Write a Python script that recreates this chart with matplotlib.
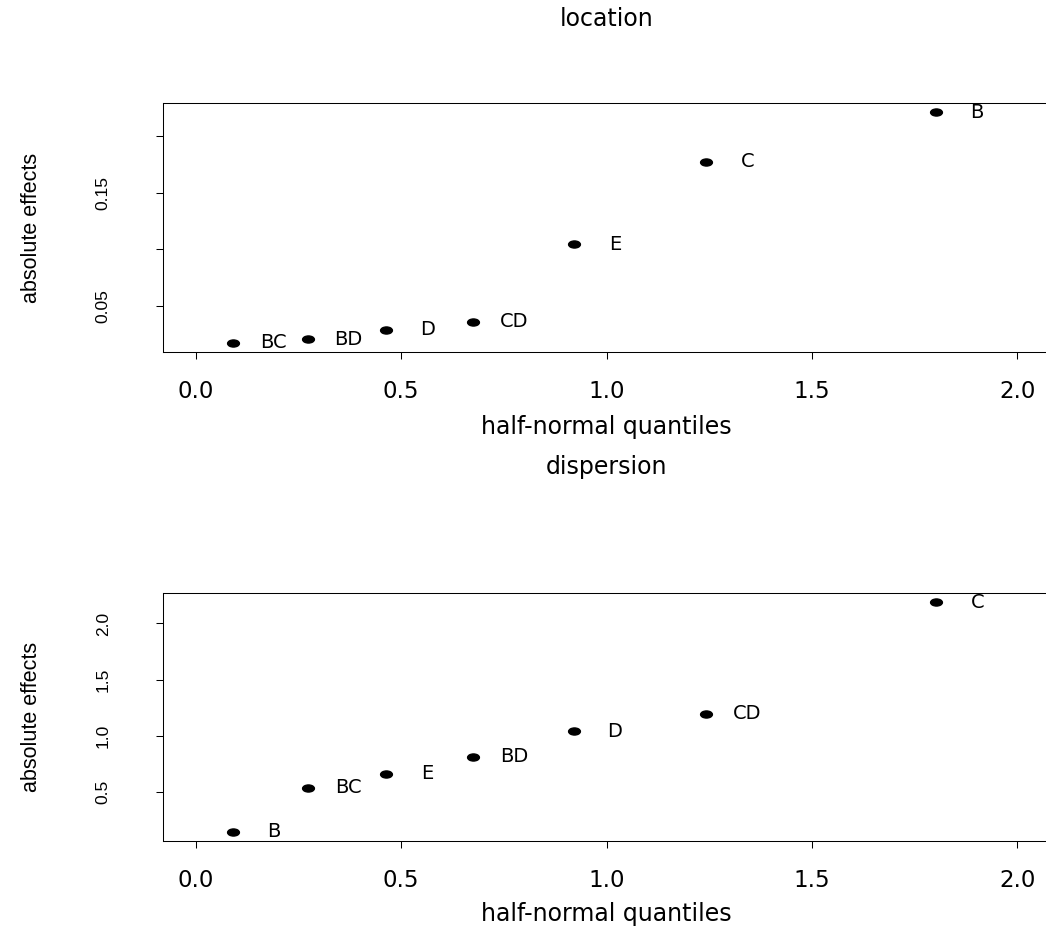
import matplotlib
matplotlib.use("Agg")
import matplotlib.pyplot as plt
from matplotlib.path import Path
from matplotlib.transforms import Affine2D

# ---- data ----
quantiles = [0.0896, 0.2723, 0.4637, 0.6745, 0.9208, 1.2426, 1.8027]

loc_labels = ["BC", "BD", "D", "CD", "E", "C", "B"]
loc_effects = [0.0173, 0.0203, 0.0286, 0.0360, 0.1043, 0.1773, 0.2210]

disp_labels = ["B", "BC", "E", "BD", "D", "CD", "C"]
disp_effects = [0.141, 0.533, 0.660, 0.811, 1.040, 1.194, 2.190]

x_ticks = [0.0, 0.5, 1.0, 1.5, 2.0]
x_ticklabels = ["0.0", "0.5", "1.0", "1.5", "2.0"]
loc_yticks = [0.05, 0.10, 0.15, 0.20]
loc_yticklabels = ["0.05", "", "0.15", ""]
disp_yticks = [0.5, 1.0, 1.5, 2.0]
disp_yticklabels = ["0.5", "1.0", "1.5", "2.0"]

titles = ["location", "dispersion"]
xlabel = "half-normal quantiles"
ylabel = "absolute effects"

# ---- style ----
W, H = 1046, 934
fig = plt.figure(figsize=(W / 100, H / 100), dpi=100)

HFONT = ["DejaVu Sans"]
VFONT = ["Liberation Sans", "DejaVu Sans"]

ellipse = Path(Affine2D().scale(1.0, 0.6).transform(Path.unit_circle().vertices),
               Path.unit_circle().codes)


def panel(rect_px, labels, effects, yticks, yticklabels, title, title_y, xlab_y):
    left, top, right, bottom = rect_px
    ax = fig.add_axes([left / W, 1 - bottom / H, (right - left) / W, (bottom - top) / H])
    ax.plot(quantiles, effects, linestyle="none", marker=ellipse,
            markersize=8.5, color="black")
    for xq, yv, lb in zip(quantiles, effects, labels):
        ax.text(xq + 0.1, yv, lb, ha="center", va="center",
                fontsize=14, family=HFONT, color="black")
    ax.set_xlim(-0.08, 2.08)
    lo, hi = min(effects), max(effects)
    r = hi - lo
    ax.set_ylim(lo - 0.04 * r, hi + 0.04 * r)

    ax.set_xticks(x_ticks)
    ax.set_xticklabels(x_ticklabels, family=HFONT, fontsize=16.5)
    ax.set_yticks(yticks)
    ax.set_yticklabels(yticklabels, family=VFONT, fontsize=12.5)
    for lbl in ax.get_yticklabels():
        lbl.set_rotation(90)
        lbl.set_ha("center")
        lbl.set_va("center")
    ax.tick_params(axis="x", direction="out", length=5, width=0.75, pad=15)
    ax.tick_params(axis="y", direction="out", length=5, width=0.75, pad=38)
    for sp in ax.spines.values():
        sp.set_linewidth(0.75)
        sp.set_color("black")

    ax.set_xlabel(xlabel, family=HFONT, fontsize=17)
    ax.xaxis.label.set_va("center")
    ax.xaxis.set_label_coords(0.5, -(xlab_y - bottom) / (bottom - top))
    ax.set_ylabel(ylabel, family=VFONT, fontsize=15.5)
    ax.yaxis.label.set_va("center")
    ax.yaxis.set_label_coords(-(left - 32) / (right - left), 0.5)

    ax.set_title(title, family=HFONT, fontsize=17, va="center",
                 y=(bottom - title_y) / (bottom - top), pad=0)
    return ax


panel((163, 103, 1050, 352), loc_labels, loc_effects, loc_yticks,
      loc_yticklabels, titles[0], 19, 427)
panel((163, 593, 1050, 841), disp_labels, disp_effects, disp_yticks,
      disp_yticklabels, titles[1], 467, 914)

fig.savefig("out.png", dpi=100)
